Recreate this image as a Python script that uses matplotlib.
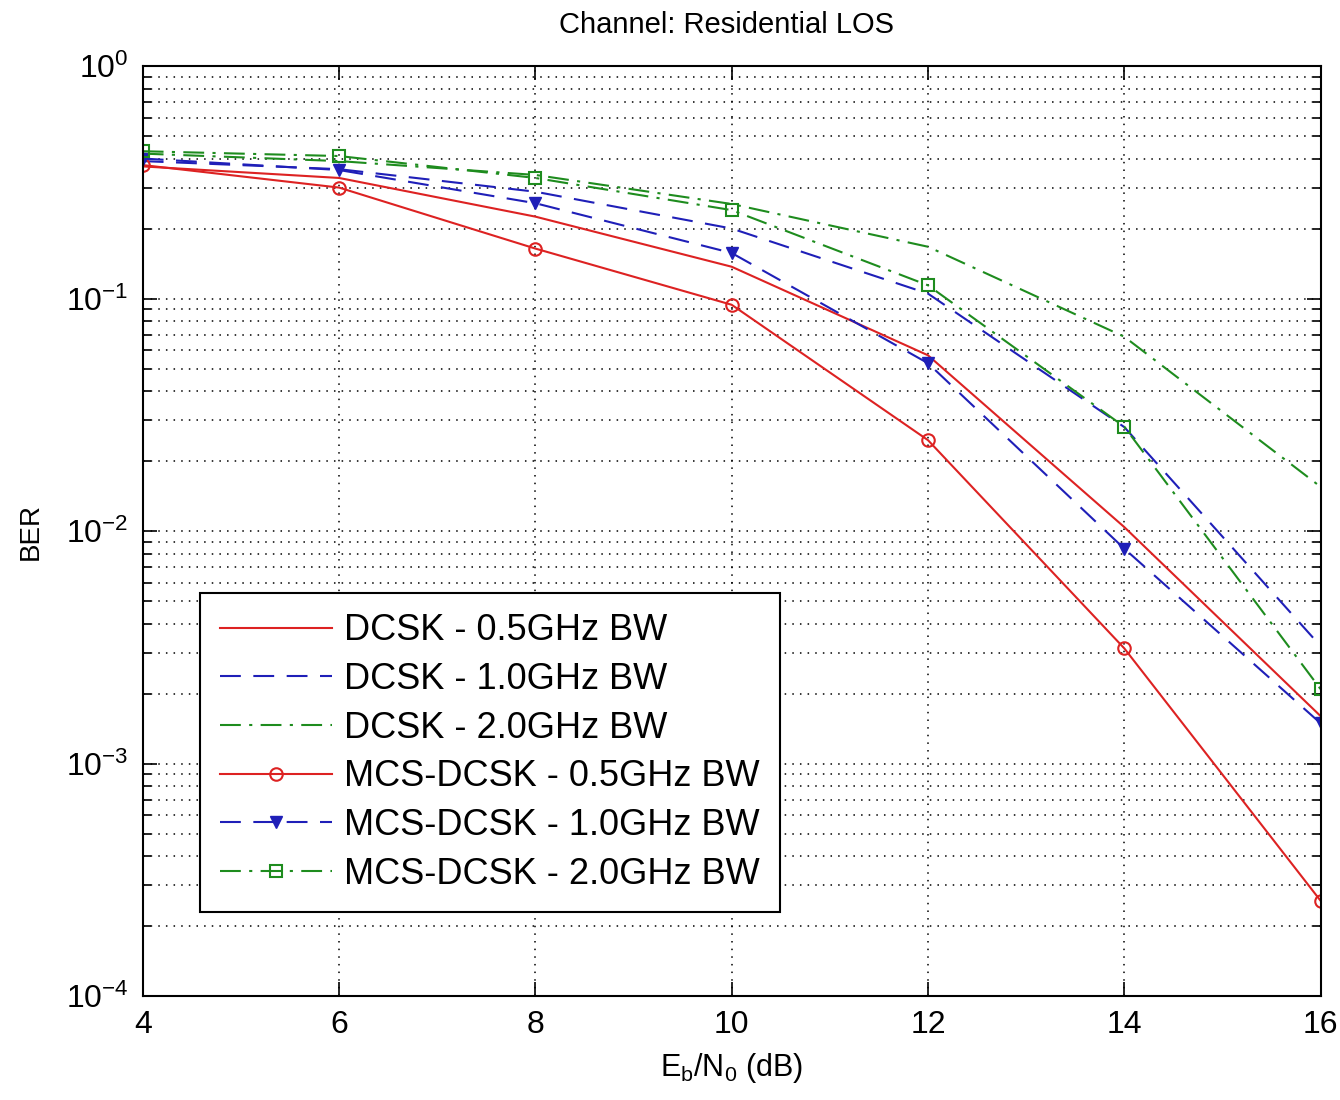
import matplotlib
matplotlib.use("Agg")
import matplotlib.pyplot as plt
from matplotlib.ticker import LogLocator, NullFormatter, FixedLocator

plt.rcParams['font.family'] = ['Liberation Sans', 'DejaVu Sans']
plt.rcParams['mathtext.fontset'] = 'custom'
plt.rcParams['mathtext.rm'] = 'Liberation Sans'
plt.rcParams['axes.unicode_minus'] = False

# Eb/N0 in dB
ebn0 = [4, 6, 8, 10, 12, 14, 16]

# Bit error rate, conventional DCSK
dcsk_05 = [0.370, 0.330, 0.225, 0.137, 0.057, 0.0104, 0.0016]
dcsk_10 = [0.390, 0.360, 0.288, 0.200, 0.105, 0.0280, 0.0032]
dcsk_20 = [0.420, 0.390, 0.340, 0.255, 0.167, 0.0685, 0.0155]

# Bit error rate, MCS-DCSK
mcs_05 = [0.375, 0.300, 0.164, 0.094, 0.0246, 0.00313, 0.000257]
mcs_10 = [0.400, 0.357, 0.257, 0.157, 0.0527, 0.0084, 0.00149]
mcs_20 = [0.430, 0.410, 0.330, 0.240, 0.114, 0.0281, 0.00209]

labels = ['DCSK - 0.5GHz BW', 'DCSK - 1.0GHz BW', 'DCSK - 2.0GHz BW',
          'MCS-DCSK - 0.5GHz BW', 'MCS-DCSK - 1.0GHz BW', 'MCS-DCSK - 2.0GHz BW']
x_ticks = [4, 6, 8, 10, 12, 14, 16]

red = '#dd2222'
blue = '#1f1fb8'
green = '#1e8c1e'

fig = plt.figure(figsize=(13.4, 11), dpi=100)
ax = fig.add_axes([0.1065, 0.0945, 0.879, 0.8455])

lw = 1.5
dash = (10, 6)
dashdot = (10, 4, 1.5, 4)
ax.semilogy(ebn0, dcsk_05, '-', color=red, lw=lw, label=labels[0])
ax.semilogy(ebn0, dcsk_10, '--', color=blue, lw=lw, dashes=dash, label=labels[1])
ax.semilogy(ebn0, dcsk_20, '-.', color=green, lw=lw, dashes=dashdot, label=labels[2])
ax.semilogy(ebn0, mcs_05, '-', color=red, lw=lw, marker='o', ms=9,
            mfc='none', mec=red, mew=1.5, label=labels[3])
ax.semilogy(ebn0, mcs_10, '--', color=blue, lw=lw, dashes=dash, marker='v', ms=8,
            mfc=blue, mec=blue, label=labels[4])
ax.semilogy(ebn0, mcs_20, '-.', color=green, lw=lw, dashes=dashdot, marker='s', ms=9,
            mfc='none', mec=green, mew=1.5, label=labels[5])

ax.set_xlim(4, 16)
ax.set_ylim(1e-4, 1)
ax.xaxis.set_major_locator(FixedLocator(x_ticks))
ax.set_xticklabels([str(v) for v in x_ticks])
ax.yaxis.set_major_locator(LogLocator(base=10, numticks=10))
ax.yaxis.set_minor_locator(LogLocator(base=10, subs=range(2, 10), numticks=20))
ax.yaxis.set_minor_formatter(NullFormatter())

ax.grid(True, which='major', axis='both', linestyle=(0, (1, 4)), color='black', lw=1.1)
ax.grid(True, which='minor', axis='y', linestyle=(0, (1, 4)), color='black', lw=1.1)

ax.tick_params(which='both', direction='in', top=True, right=True, labelsize=23, pad=10)
ax.tick_params(which='major', length=10, width=1.2)
ax.tick_params(which='minor', length=6, width=1.2)
for s in ax.spines.values():
    s.set_linewidth(1.5)

ax.set_xlabel(r'E$_\mathregular{b}$/N$_\mathregular{0}$ (dB)', fontsize=22, labelpad=8)
ax.set_ylabel('BER', fontsize=20, labelpad=16)
fig.text(0.5425, 0.977, 'Channel: Residential LOS', fontsize=21,
         ha='center', va='center')

leg = ax.legend(loc='upper left', bbox_to_anchor=(0.0486, 0.433), borderaxespad=0,
                fontsize=26, handlelength=3.1, handletextpad=0.35, labelspacing=0.38,
                borderpad=0.55, fancybox=False, framealpha=1, edgecolor='black')
leg.get_frame().set_linewidth(1.5)

fig.savefig('out.png', dpi=100)
